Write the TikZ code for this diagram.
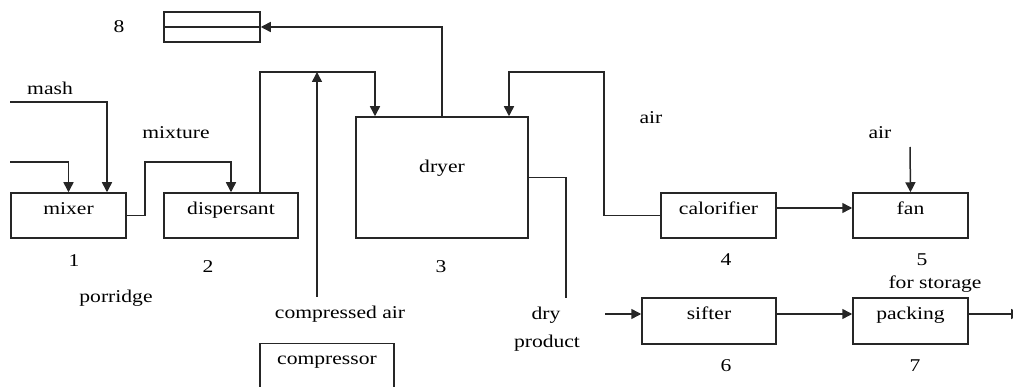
\documentclass[tikz,border=0pt]{standalone}
\usepackage{fontspec}
\setmainfont{Liberation Serif}
\usepackage{graphicx}
\usetikzlibrary{arrows.meta}
\newcommand\sx[1]{\scalebox{1.2}[1]{#1}}
\begin{document}
\begin{tikzpicture}[x=1pt,y=-1pt,
  line/.style={line width=1.5pt, draw=black!85},
  arr/.style={line, -{Triangle[length=10pt,width=10pt]}},
  box/.style={draw=black!85, line width=1.5pt, inner sep=0pt,
    font=\fontsize{18}{20}\selectfont, text height=13pt, text depth=15pt},
  txt/.style={inner sep=0pt, font=\fontsize{18}{20}\selectfont},
]
\useasboundingbox (0,0) rectangle (1013,387);
\clip (0,0) rectangle (1013,387);

% boxes
\node[box, minimum width=96pt, minimum height=30pt] (store) at (212,27) {};
\draw[line] (store.west) -- (store.east);
\node[box, minimum width=115pt, minimum height=45pt] (mixer) at (68.5,215.5) {\sx{mixer}};
\node[box, minimum width=134pt, minimum height=45pt] (disp) at (231,215.5) {\sx{dispersant}};
\node[box, minimum width=172pt, minimum height=121pt, text depth=23pt] (dryer) at (442,177.5) {\sx{dryer}};
\node[box, minimum width=115pt, minimum height=45pt] (calor) at (718.5,215.5) {\sx{calorifier}};
\node[box, minimum width=115pt, minimum height=45pt] (fan) at (910.5,215.5) {\sx{fan}};
\node[box, minimum width=134pt, minimum height=46pt] (sifter) at (709,321) {\sx{sifter}};
\node[box, minimum width=115pt, minimum height=46pt] (packing) at (910.5,321) {\sx{packing}};
\node[box, minimum width=134pt, minimum height=45pt] (compr) at (327,366) {\sx{compressor}};

% free ends and junctions
\coordinate (mashin) at (10,102);
\coordinate (in2) at (10,162);
\coordinate (mixj) at (145,162);
\coordinate (j1) at (317,72);
\coordinate (cain) at (317,297);
\coordinate (dp) at (566,298);
\coordinate (j2) at (604,72);
\coordinate (airin) at (910,147);
\coordinate (sin) at (605,314);
\coordinate (pout) at (1021,314);

% connectors
\draw[arr] (dryer.north) |- (store.east);
\draw[arr] (mashin) -| ([xshift=38.5pt]mixer.north);
\draw[arr] (in2) -| (mixer.north);
\draw[arr] (mixer.east) -| (mixj) -| (disp.north);
\draw[arr] ([xshift=29pt]disp.north) |- (j1) -| ([xshift=-67pt]dryer.north);
\draw[arr] (cain) -- (j1);
\draw[line] (dryer.east) -| (dp);
\draw[arr] (calor.west) -| (j2) -| ([xshift=67pt]dryer.north);
\draw[arr] ([yshift=7.5pt]calor.east) -- ([yshift=7.5pt]fan.west);
\draw[arr] (airin) -- (fan.north);
\draw[arr] (sin) -- ([yshift=7pt]sifter.west);
\draw[arr] ([yshift=7pt]sifter.east) -- ([yshift=7pt]packing.west);
\draw[arr] ([yshift=7pt]packing.east) -- (pout);

% labels
\node[txt] (l8) at (119,27) {\sx{8}};
\node[txt] (lmash) at (50,88) {\sx{mash}};
\node[txt] (lmix) at (176,133) {\sx{mixture}};
\node[txt] (lpor) at (116,298) {\sx{porridge}};
\node[txt] (lca) at (340,314) {\sx{compressed air}};
\node[txt] (ldry) at (546,315) {\sx{dry}};
\node[txt] (lprod) at (547,343) {\sx{product}};
\node[txt] (lair1) at (651,118) {\sx{air}};
\node[txt] (lair2) at (880,133) {\sx{air}};
\node[txt] (lstor) at (935,284) {\sx{for storage}};
\node[txt] (n1) at (74,261) {\sx{1}};
\node[txt] (n2) at (208,267) {\sx{2}};
\node[txt] (n3) at (441,267) {\sx{3}};
\node[txt] (n4) at (726,260) {\sx{4}};
\node[txt] (n5) at (922,260) {\sx{5}};
\node[txt] (n6) at (726,366) {\sx{6}};
\node[txt] (n7) at (915,366) {\sx{7}};
\end{tikzpicture}
\end{document}
